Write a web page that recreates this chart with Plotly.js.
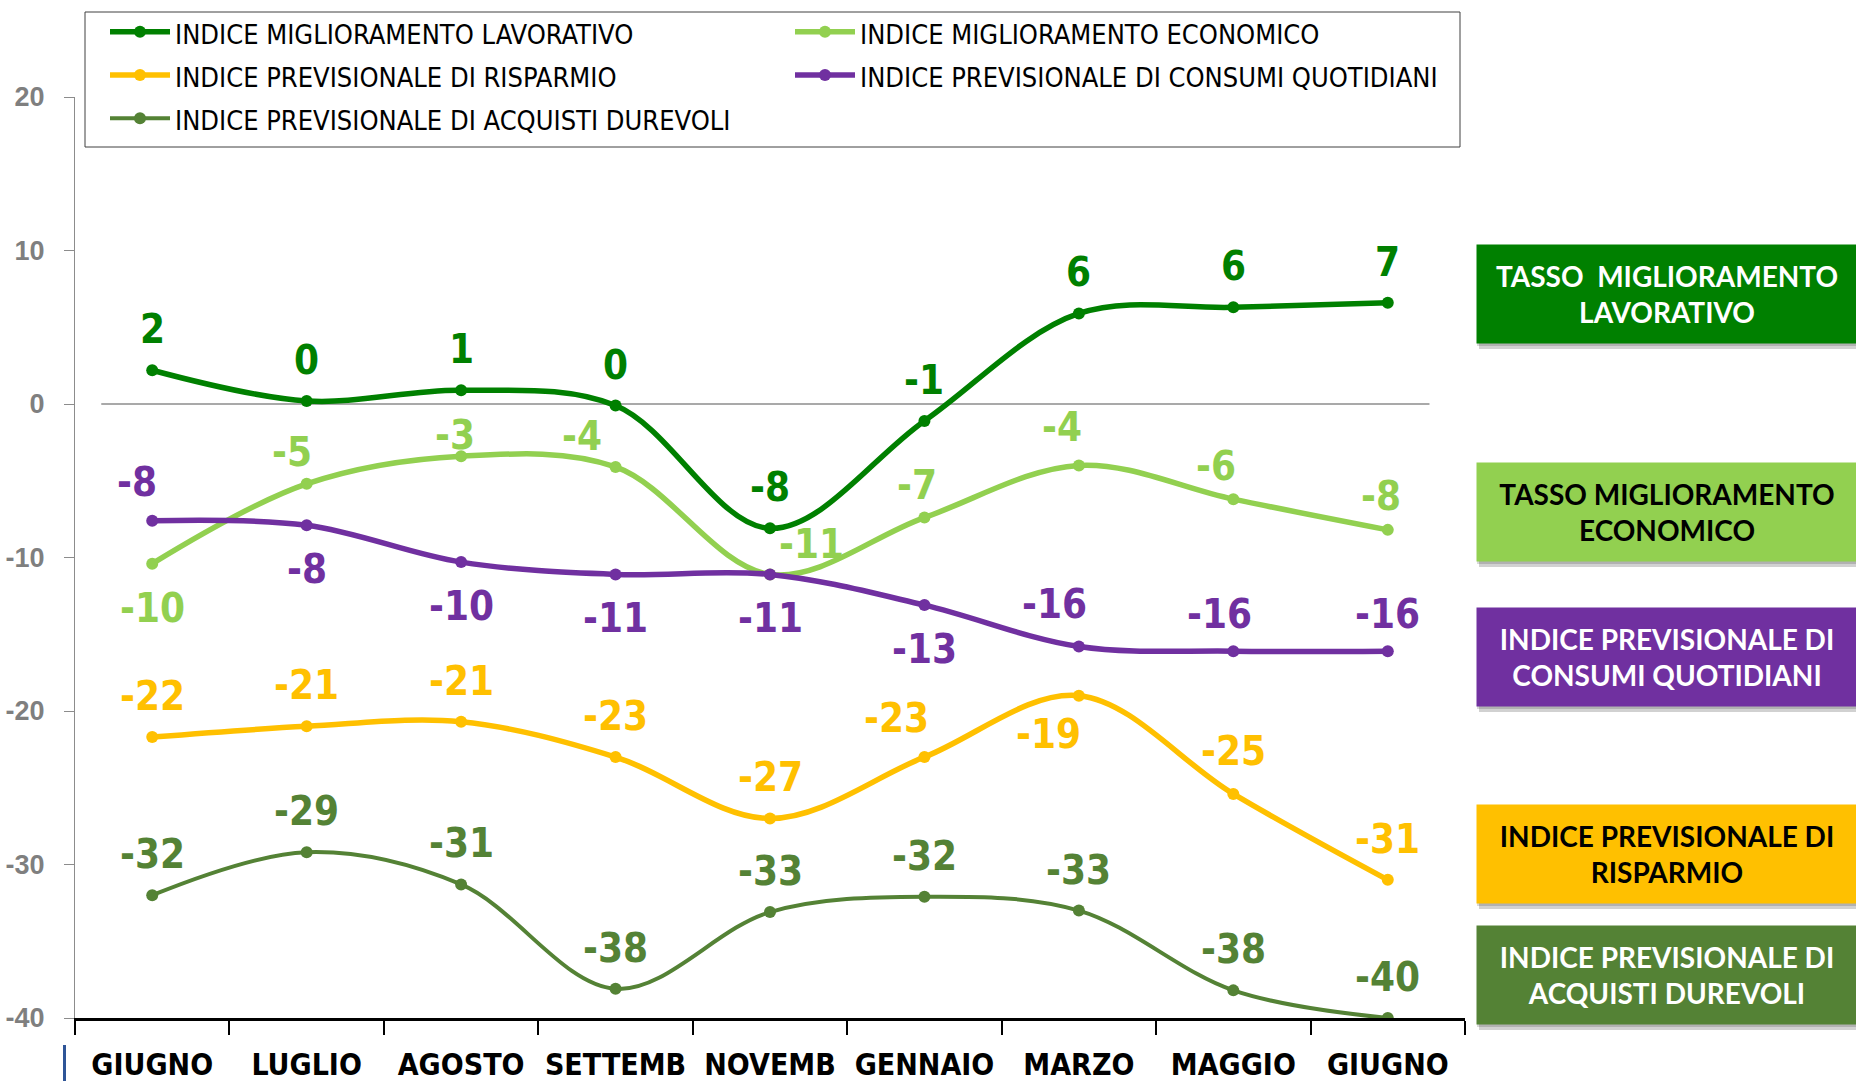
<!DOCTYPE html>
<html>
<head>
<meta charset="utf-8">
<script src="https://cdn.plot.ly/plotly-3.0.1.min.js"></script>
<style>
  html, body { margin: 0; padding: 0; background: #fff; }
  #plot { width: 1856px; height: 1081px; }
</style>
</head>
<body>
<div id="plot"></div>
<script>
// Mesi (asse X)
const mesi = ["GIUGNO", "LUGLIO", "AGOSTO", "SETTEMB", "NOVEMB", "GENNAIO", "MARZO", "MAGGIO", "GIUGNO"];

// Tacche asse Y
const yTacche = [-40, -30, -20, -10, 0, 10, 20];
const yEtichette = ["-40", "-30", "-20", "-10", "0", "10", "20"];

// Valori delle serie
const lavorativo = [2.2, 0.2, 0.9, -0.1, -8.1, -1.1, 5.9, 6.3, 6.6];
const economico = [-10.4, -5.2, -3.4, -4.1, -11.1, -7.4, -4.0, -6.2, -8.2];
const risparmio = [-21.7, -21.0, -20.7, -23.0, -27.0, -23.0, -19.0, -25.4, -31.0];
const consumi = [-7.6, -7.9, -10.3, -11.1, -11.1, -13.1, -15.8, -16.1, -16.1];
const durevoli = [-32.0, -29.2, -31.3, -38.1, -33.1, -32.1, -33.0, -38.2, -40.0];

// Etichette dati (valori arrotondati come nel grafico)
const etLavorativo = ["2", "0", "1", "0", "-8", "-1", "6", "6", "7"];
const etEconomico = ["-10", "-5", "-3", "-4", "-11", "-7", "-4", "-6", "-8"];
const etRisparmio = ["-22", "-21", "-21", "-23", "-27", "-23", "-19", "-25", "-31"];
const etConsumi = ["-8", "-8", "-10", "-11", "-11", "-13", "-16", "-16", "-16"];
const etDurevoli = ["-32", "-29", "-31", "-38", "-33", "-32", "-33", "-38", "-40"];

// Spostamento etichette [dx, dy] in pixel (dy positivo = verso il basso)
const UP = [0, -41];
const DOWN = [0, 44];
const spostLavorativo = [UP, UP, UP, UP, UP, UP, UP, UP, UP];
const spostEconomico = [DOWN, [-15, -32], [-6, -21], [-34, -31], [41, -30], [-7, -33], [-17, -38], [-17, -33], [-7, -34]];
const spostRisparmio = [UP, UP, UP, UP, UP, [-28, -39], [-30, 38], [0, -43], UP];
const spostConsumi = [[-15, -39], DOWN, DOWN, DOWN, DOWN, DOWN, [-24, -43], [-14, -37], [0, -37]];
const spostDurevoli = [UP, UP, UP, UP, UP, UP, UP, UP, UP];

const VERDE = "#008000";
const VERDE_CHIARO = "#92D050";
const GIALLO = "#FFC000";
const VIOLA = "#7030A0";
const OLIVA = "#548235";

const NARROW = "Liberation Sans Narrow, Arial Narrow, DejaVu Sans Condensed, sans-serif";

const xIdx = mesi.map((_, i) => i);

const serie = [
  { nome: "INDICE MIGLIORAMENTO LAVORATIVO", y: lavorativo, et: etLavorativo, sp: spostLavorativo, col: VERDE, w: 5.5 },
  { nome: "INDICE MIGLIORAMENTO ECONOMICO", y: economico, et: etEconomico, sp: spostEconomico, col: VERDE_CHIARO, w: 5.5 },
  { nome: "INDICE PREVISIONALE DI RISPARMIO", y: risparmio, et: etRisparmio, sp: spostRisparmio, col: GIALLO, w: 5.5 },
  { nome: "INDICE PREVISIONALE DI CONSUMI QUOTIDIANI", y: consumi, et: etConsumi, sp: spostConsumi, col: VIOLA, w: 5.5 },
  { nome: "INDICE PREVISIONALE DI ACQUISTI DUREVOLI", y: durevoli, et: etDurevoli, sp: spostDurevoli, col: OLIVA, w: 4 },
];

// il testo resta a 27px, la riga della legenda usa la misura del font (31px) per avere piu' spazio
const data = serie.map((s) => ({
  x: xIdx,
  y: s.y,
  name: '<span style="font-size:27px">' + s.nome + "</span>",
  mode: "lines+markers",
  line: { color: s.col, width: s.w, shape: "spline", smoothing: 1 },
  marker: { color: s.col, size: 12 },
}));

// Etichette dei punti
const annotations = [];
serie.forEach((s) => {
  s.y.forEach((v, i) => {
    annotations.push({
      x: i,
      y: v,
      xref: "x",
      yref: "y",
      text: s.et[i],
      showarrow: false,
      xshift: s.sp[i][0],
      yshift: -s.sp[i][1],
      font: { family: NARROW, size: 40, color: s.col, weight: "bold" },
    });
  });
});

// Margini dell'area del grafico (pixel)
const W = 1856, H = 1081;
const M = { l: 75, r: 391, t: 97, b: 63 };
const pw = W - M.l - M.r;
const ph = H - M.t - M.b;
const px = (p) => (p - M.l) / pw;
const py = (p) => (H - M.b - p) / ph;

// Riquadri a destra
const riquadri = [
  { testo: "TASSO  MIGLIORAMENTO<br>LAVORATIVO", bg: VERDE, fg: "#ffffff", top: 245 },
  { testo: "TASSO MIGLIORAMENTO<br>ECONOMICO", bg: VERDE_CHIARO, fg: "#000000", top: 463 },
  { testo: "INDICE PREVISIONALE DI<br>CONSUMI QUOTIDIANI", bg: VIOLA, fg: "#ffffff", top: 608 },
  { testo: "INDICE PREVISIONALE DI<br>RISPARMIO", bg: GIALLO, fg: "#000000", top: 805 },
  { testo: "INDICE PREVISIONALE DI<br>ACQUISTI DUREVOLI", bg: OLIVA, fg: "#ffffff", top: 926 },
];
const boxL = 1476, boxW = 380, boxH = 98;

const shapes = [
  // cornice della legenda
  { type: "rect", xref: "paper", yref: "paper", x0: px(85), x1: px(1460), y0: py(147), y1: py(12),
    fillcolor: "#ffffff", line: { color: "#404040", width: 1 } },
  // linea dello zero
  { type: "line", xref: "x", yref: "y", x0: -0.33, x1: 8.27, y0: 0, y1: 0,
    line: { color: "#8c8c8c", width: 1.5 }, layer: "below" },
  // barretta blu in basso a sinistra
  { type: "line", xref: "paper", yref: "paper", x0: px(64.5), x1: px(64.5), y0: py(1045), y1: py(1081),
    line: { color: "#2F5597", width: 3 } },
];

riquadri.forEach((r) => {
  // ombra
  shapes.push({ type: "rect", xref: "paper", yref: "paper",
    x0: px(boxL + 3), x1: px(boxL + boxW + 3), y0: py(r.top + boxH + 6), y1: py(r.top + 6),
    fillcolor: "rgba(0,0,0,0.18)", line: { width: 0 } });
  shapes.push({ type: "rect", xref: "paper", yref: "paper",
    x0: px(boxL + 1), x1: px(boxL + boxW + 1), y0: py(r.top + boxH + 3), y1: py(r.top + 3),
    fillcolor: "rgba(0,0,0,0.15)", line: { width: 0 } });
  annotations.push({
    xref: "paper", yref: "paper",
    x: px(boxL), y: py(r.top + boxH / 2),
    xanchor: "left", yanchor: "middle",
    width: boxW, height: boxH,
    bgcolor: r.bg, borderpad: 0,
    showarrow: false,
    text: r.testo,
    align: "center",
    font: { family: "Lato, Open Sans, sans-serif", size: 28, color: r.fg, weight: "bold" },
  });
});

const layout = {
  width: W,
  height: H,
  margin: Object.assign({ autoexpand: false }, M),
  paper_bgcolor: "#ffffff",
  plot_bgcolor: "#ffffff",
  showlegend: true,
  legend: {
    orientation: "h",
    x: px(105),
    y: py(5),
    xanchor: "left",
    yanchor: "top",
    itemwidth: 60,
    entrywidth: 610,
    bgcolor: "rgba(0,0,0,0)",
    borderwidth: 0,
    font: { family: NARROW, size: 31, color: "#000000" },
  },
  xaxis: {
    range: [-0.5, 8.5],
    tickvals: xIdx,
    ticktext: mesi,
    tickangle: 0,
    ticks: "",
    showgrid: false,
    zeroline: false,
    showline: true,
    linecolor: "#000000",
    linewidth: 3,
    ticklabelstandoff: 18,
    tickfont: { family: NARROW, size: 30, color: "#000000", weight: "bold" },
    minor: {
      tickvals: mesi.map((_, i) => i - 0.5).concat([mesi.length - 0.5]),
      ticks: "outside",
      ticklen: 14,
      tickwidth: 2,
      tickcolor: "#000000",
      showgrid: false,
    },
    fixedrange: true,
  },
  yaxis: {
    range: [-40, 20],
    tickvals: yTacche,
    ticktext: yEtichette,
    ticks: "outside",
    ticklen: 10,
    tickcolor: "#8c8c8c",
    showgrid: false,
    zeroline: false,
    showline: true,
    linecolor: "#8c8c8c",
    linewidth: 1,
    ticklabelstandoff: 14,
    tickfont: { family: "Liberation Sans, Arial, sans-serif", size: 27, color: "#7f7f7f", weight: "bold" },
    fixedrange: true,
  },
  annotations: annotations,
  shapes: shapes,
};

Plotly.newPlot("plot", data, layout, { displayModeBar: false, staticPlot: true });
</script>
</body>
</html>
